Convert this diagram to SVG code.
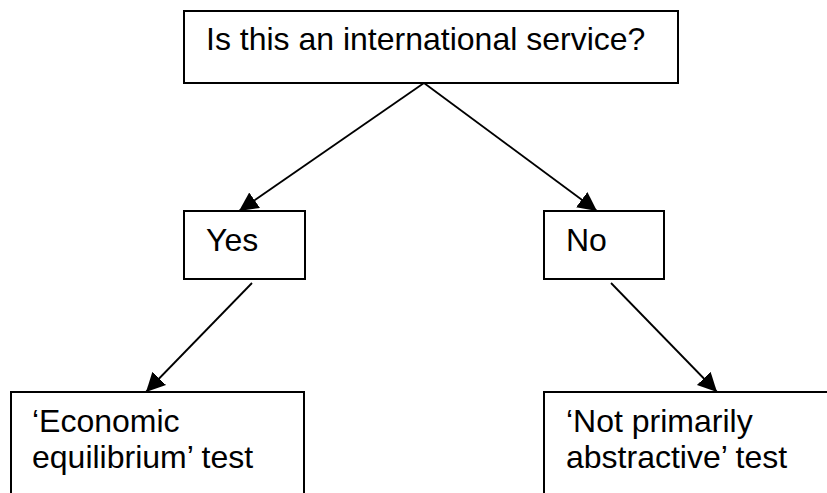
<svg xmlns="http://www.w3.org/2000/svg" width="827" height="493" viewBox="0 0 827 493">
<style>
.box{fill:#fff;stroke:#000;stroke-width:2}
.t{font-family:"Liberation Sans",Arial,sans-serif;font-size:32px;fill:#000}
.c{stroke:#000;stroke-width:1.8;fill:none;marker-end:url(#ah)}
</style>
<defs>
<marker id="ah" markerUnits="userSpaceOnUse" markerWidth="20" markerHeight="20" refX="19" refY="9.5" orient="auto">
<path d="M0,0 L19,9.5 L0,19 Z" fill="#000"/>
</marker>
</defs>
<rect width="827" height="493" fill="#fff"/>
<g id="connectors">
<line class="c" x1="424" y1="83" x2="239" y2="211"/>
<line class="c" x1="424" y1="83" x2="597" y2="211"/>
<line class="c" x1="252" y1="283" x2="146" y2="392"/>
<line class="c" x1="611" y1="283" x2="717" y2="392"/>
</g>
<g id="q">
<rect class="box" x="184" y="11" width="494" height="72"/>
<text class="t" x="206" y="50">Is this an international service?</text>
</g>
<g id="yes">
<rect class="box" x="184" y="211" width="121" height="68"/>
<text class="t" x="206" y="251">Yes</text>
</g>
<g id="no">
<rect class="box" x="544" y="211" width="120" height="68"/>
<text class="t" x="566" y="251">No</text>
</g>
<g id="econ">
<rect class="box" x="11" y="392" width="293" height="110"/>
<text class="t" x="32" y="432">‘Economic</text>
<text class="t" x="32" y="468">equilibrium’ test</text>
</g>
<g id="notprim">
<rect class="box" x="544" y="392" width="300" height="110"/>
<text class="t" x="566" y="432">‘Not primarily</text>
<text class="t" x="566" y="468">abstractive’ test</text>
</g>
</svg>
